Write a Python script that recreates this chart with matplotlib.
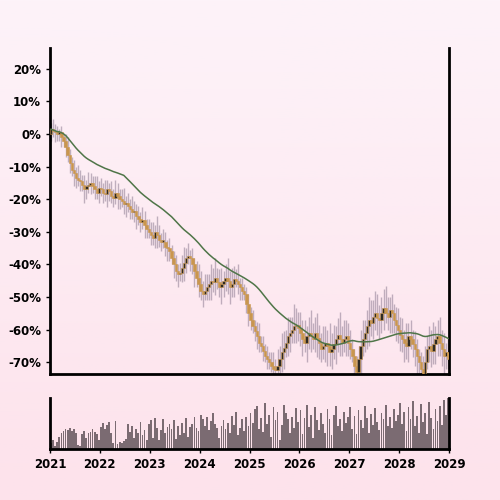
import numpy as np
import pandas as pd
import matplotlib
matplotlib.use("Agg")
import matplotlib.pyplot as plt
from matplotlib.patches import Rectangle

# Half-month closes, % change since start (Jan 2021 .. Dec 2028), one row per year
closes = [1.5, 1, 0.5, 0, 0.5, -1, -2, -4, -6.5, -9, -11, -12, -13.5, -14, -14.5, -15.5, -17, -16, -15.5, -15, -16, -17, -18, -16.5,
          -17, -18, -18.5, -17, -17.5, -19, -19.5, -18, -19, -20, -20.5, -21.5, -21, -22, -23, -24, -23.5, -25, -26, -27, -26.5, -28, -29, -30,
          -31, -32, -30, -31, -32.5, -33, -33, -34.5, -35, -36, -38, -40, -42, -43, -42.5, -41, -39.5, -38, -37.5, -38, -40, -42, -44, -46,
          -48, -49, -48, -47, -46, -45, -45.5, -44, -45.5, -47, -46, -45, -44, -45, -47, -46, -44.5, -45, -46, -47, -48, -49, -52, -55,
          -57, -59, -60.5, -62, -64, -65, -66.5, -68, -69, -70, -71, -72, -72.5, -71, -69, -67, -65.5, -64, -62, -61, -60, -59, -58.5, -59.5,
          -61, -63, -64, -62, -61, -62, -63, -61, -62.5, -64, -66, -65, -64, -65, -67, -66, -64.5, -63, -61.5, -63, -64, -63, -62, -64,
          -66, -68, -71, -73, -69, -65, -63, -61, -59, -57, -58, -56, -55, -56.5, -57, -55, -53.5, -55, -56, -54, -55, -57, -58.5, -60,
          -61.5, -63, -64, -65, -62, -63, -64.5, -66, -68, -70, -72, -74, -70, -66, -65, -66.5, -64.5, -63, -62, -64, -66, -68, -67, -69]
wick_up = [2, 3, 2, 2, 1, 2, 1, 2, 3, 2, 2, 3, 2, 4, 3, 2, 3, 2, 4, 3, 2, 3, 4, 2,
           3, 2, 4, 3, 2, 3, 2, 4, 3, 2, 3, 4, 2, 3, 2, 4, 3, 2, 3, 2, 4, 3, 2, 3,
           3, 4, 2, 5, 3, 2, 4, 3, 2, 3, 2, 2, 3, 2, 3, 4, 5, 3, 4, 2, 3, 2, 3, 4,
           4, 3, 5, 4, 3, 5, 4, 6, 3, 4, 5, 3, 4, 6, 3, 5, 4, 3, 5, 2, 3, 2, 2, 3,
           2, 3, 2, 3, 4, 2, 3, 2, 3, 2, 3, 4, 3, 5, 4, 6, 5, 4, 6, 5, 4, 7, 5, 4,
           5, 4, 6, 3, 5, 7, 4, 5, 6, 4, 3, 6, 5, 4, 7, 5, 6, 4, 5, 7, 4, 6, 5, 4,
           4, 3, 2, 3, 4, 5, 6, 4, 5, 7, 6, 5, 7, 6, 4, 5, 6, 7, 5, 4, 5, 3, 4, 5,
           4, 5, 3, 6, 4, 5, 3, 4, 3, 2, 3, 4, 5, 4, 6, 5, 7, 4, 5, 6, 4, 5, 3, 4]
wick_dn = [2, 2, 3, 2, 2, 3, 2, 3, 2, 3, 2, 4, 3, 2, 3, 2, 4, 3, 2, 3, 2, 3, 2, 3,
           2, 3, 2, 4, 3, 2, 3, 2, 4, 3, 2, 3, 4, 2, 3, 2, 3, 4, 2, 3, 2, 4, 3, 2,
           3, 2, 3, 4, 2, 3, 2, 3, 4, 3, 2, 4, 3, 4, 2, 3, 4, 3, 2, 4, 3, 5, 3, 4,
           3, 4, 2, 3, 4, 5, 3, 4, 2, 3, 5, 4, 3, 4, 5, 3, 4, 2, 3, 4, 3, 2, 3, 4,
           3, 2, 3, 4, 3, 2, 3, 2, 3, 2, 2, 3, 3, 4, 3, 4, 5, 3, 4, 5, 3, 4, 5, 4,
           4, 5, 3, 6, 4, 5, 3, 4, 6, 5, 4, 3, 5, 6, 4, 5, 3, 6, 4, 5, 4, 3, 5, 4,
           3, 2, 3, 2, 4, 5, 3, 4, 5, 6, 4, 5, 4, 5, 6, 4, 5, 3, 4, 5, 6, 4, 5, 4,
           5, 4, 6, 4, 5, 3, 4, 5, 6, 4, 3, 2, 3, 2, 4, 5, 4, 6, 5, 4, 5, 6, 4, 3]

# Volume, two bars per month, relative units
volume = [12, 18, 6, 14, 24, 30, 34, 38, 36, 40, 34, 38, 30, 8, 6, 28, 35, 22, 30, 33, 38, 32, 28, 18,
          42, 50, 38, 46, 52, 30, 12, 54, 10, 14, 12, 16, 20, 48, 32, 44, 22, 38, 30, 52, 26, 36, 18, 48,
          55, 22, 60, 40, 18, 36, 58, 30, 42, 48, 38, 56, 20, 44, 26, 50, 30, 60, 24, 42, 48, 62, 40, 34,
          66, 58, 44, 62, 36, 54, 70, 48, 40, 22, 44, 56, 38, 50, 30, 64, 46, 72, 26, 40, 58, 34, 62, 44,
          70, 50, 76, 82, 38, 60, 32, 88, 48, 66, 24, 80, 56, 72, 18, 46, 84, 70, 58, 30, 62, 40, 78, 52,
          74, 28, 60, 84, 42, 66, 22, 80, 56, 36, 70, 48, 30, 76, 58, 26, 66, 82, 44, 58, 34, 72, 50, 62,
          80, 38, 64, 28, 74, 56, 40, 82, 60, 30, 68, 46, 78, 52, 36, 70, 58, 84, 44, 62, 40, 76, 54, 66,
          88, 48, 72, 34, 80, 58, 92, 44, 64, 30, 86, 52, 70, 28, 90, 60, 38, 76, 54, 82, 46, 94, 66, 98]

years = list(range(2021, 2030))

UP_COL = "#2e2a24"
DOWN_COL = "#c9964e"
WICK_COL = "#8c7c92"
MA_COL = "#4f7548"
VOL_COL = "#7b6b72"

df = pd.DataFrame({"close": closes, "up": wick_up, "dn": wick_dn})
df["open"] = df["close"].shift(1).fillna(0)
df["high"] = df[["open", "close"]].max(axis=1) + df["up"]
df["low"] = df[["open", "close"]].min(axis=1) - df["dn"]
df["t"] = 2021 + (np.arange(len(df)) + 0.5) / 24
df["ma"] = df["close"].rolling(36, min_periods=1).mean()

fig = plt.figure(figsize=(5, 5), dpi=100)

# pink vertical gradient background
bg = fig.add_axes([0, 0, 1, 1], zorder=-10)
grad = np.linspace(0, 1, 256).reshape(-1, 1)
top = np.array([253, 243, 249]) / 255
bot = np.array([253, 226, 235]) / 255
img = top + (bot - top) * grad[:, :, None] * np.ones((1, 1, 3))
bg.imshow(img, aspect="auto", extent=[0, 1, 0, 1])
bg.axis("off")

ax = fig.add_axes([0.1, 0.252, 0.798, 0.652])
axv = fig.add_axes([0.1, 0.102, 0.798, 0.102])
for a in (ax, axv):
    a.patch.set_alpha(0)
    a.spines["top"].set_visible(False)
    for s in ("left", "right", "bottom"):
        a.spines[s].set_linewidth(2.0)
    a.tick_params(width=1, length=3, labelsize=8.5, color="black")
    a.set_xlim(2021, 2029)

w = 1.15 / 24
ax.vlines(df["t"], df["low"], df["high"], color=WICK_COL, alpha=0.55, lw=1.0, zorder=2)
for _, r in df.iterrows():
    col = UP_COL if r["close"] >= r["open"] else DOWN_COL
    lo = min(r["open"], r["close"])
    h = max(abs(r["close"] - r["open"]), 0.4)
    ax.add_patch(Rectangle((r["t"] - w / 2, lo), w, h, facecolor=col,
                           edgecolor=DOWN_COL, lw=0.4, zorder=3))

ax.plot(df["t"], df["ma"], color=MA_COL, lw=1.1, zorder=4)

ax.set_ylim(-73.6, 26.4)
ax.set_yticks(range(-70, 21, 10))
ax.set_yticklabels([f"{v}%" for v in range(-70, 21, 10)], fontweight="bold")
ax.set_xticks([])

tv = 2021 + (np.arange(len(volume)) + 0.5) / 24
axv.bar(tv, volume, width=0.85 / 24, color=VOL_COL, zorder=2)
axv.set_ylim(0, max(volume))
axv.set_yticks([])
axv.set_xticks(years)
axv.set_xticklabels([str(y) for y in years], fontweight="bold")

fig.savefig("out.png", dpi=100)
